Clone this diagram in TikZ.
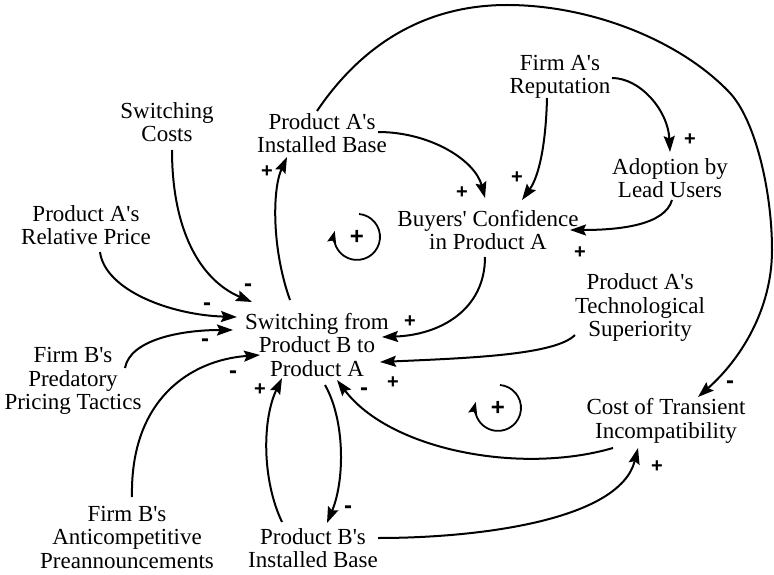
\documentclass[tikz,border=0pt]{standalone}
\usepackage{fontspec}
\setmainfont{Liberation Serif}
\newfontfamily\signfont{Liberation Sans}
\usetikzlibrary{arrows.meta,calc}
\newcommand{\ap}{\textquotesingle}
\begin{document}
\begin{tikzpicture}[x=1pt,y=-1pt,
  var/.style={inner sep=0pt, align=center, font=\fontsize{23}{23.5}\selectfont},
  plus/.style={inner sep=0pt, font=\signfont\bfseries\fontsize{20}{20}\selectfont},
  bigplus/.style={inner sep=0pt, font=\signfont\bfseries\fontsize{24}{24}\selectfont},
  minus/.style={inner sep=0pt, font=\signfont\bfseries\fontsize{24}{24}\selectfont},
  link/.style={line width=2pt, -{Stealth[length=16pt,width=11pt,inset=2.5pt]}},
  loopar/.style={line width=1.8pt, -{Stealth[length=12pt,width=9pt,inset=2pt]}}
]
\fill[white] (0,0) rectangle (774,575);
\useasboundingbox (0,0) rectangle (774,575);

% variables
\node[var] (sc)  at (167,122) {Switching\\Costs};
\node[var] (rp)  at (86,225)  {Product A\ap s\\Relative Price};
\node[var] (ia)  at (322,133) {Product A\ap s\\Installed Base};
\node[var] (rep) at (560,77)  {Firm A\ap s\\Reputation};
\node[var] (ad)  at (670,178) {Adoption by\\Lead Users};
\node[var] (bc)  at (488,230) {Buyers\ap{} Confidence\\in Product A};
\node[var] (ts)  at (640,308) {Product A\ap s\\Technological\\Superiority};
\node[var] (sw)  at (317,345) {Switching from\\Product B to\\Product A};
\node[var] (pp)  at (73,381)  {Firm B\ap s\\Predatory\\Pricing Tactics};
\node[var] (ac)  at (127,537) {Firm B\ap s\\Anticompetitive\\Preannouncements};
\node[var] (ib)  at (313,548) {Product B\ap s\\Installed Base};
\node[var] (ci)  at (666,421) {Cost of Transient\\Incompatibility};

% links
\draw[link] ($(sc)+(5,28)$) .. controls (172,230) and (200,280) .. ($(sw)+(-65,-43)$);
\draw[link] ($(rp)+(14,27)$) .. controls (105,290) and (170,315) .. ($(sw)+(-80,-28)$);
\draw[link] ($(pp)+(52,-13)$) .. controls (130,340) and (180,330) .. ($(sw)+(-84,-15)$);
\draw[link] ($(ac)+(5,-40)$) .. controls (130,400) and (190,360) .. ($(sw)+(-57,10)$);
\draw[link] ($(sw)+(-27,-45)$) .. controls (272,250) and (272,190) .. ($(ia)+(-35,24)$);
\draw[link] ($(ia)+(56,-1)$) .. controls (430,132) and (475,160) .. ($(bc)+(-3,-32)$);
\draw[link] ($(rep)+(-13,21)$) .. controls (546,140) and (540,175) .. ($(bc)+(34,-30)$);
\draw[link] ($(rep)+(52,1)$) .. controls (640,78) and (668,110) .. ($(ad)+(0,-26)$);
\draw[link] ($(ad)+(2,22)$) .. controls (665,225) and (620,230) .. ($(bc)+(82,0)$);
\draw[link] ($(bc)+(-3,27)$) .. controls (485,310) and (440,335) .. ($(sw)+(65,-8)$);
\draw[link] ($(ts)+(-65,27)$) .. controls (555,355) and (470,358) .. ($(sw)+(63,17)$);
\draw[link] ($(ci)+(-53,27)$) .. controls (520,475) and (390,450) .. ($(sw)+(20,35)$);
\draw[link] ($(ib)+(65,-10)$) .. controls (480,538) and (620,520) .. ($(ci)+(-28,27)$);
\draw[link] ($(sw)+(8,40)$) .. controls (345,420) and (345,480) .. ($(ib)+(14,-25)$);
\draw[link] ($(ib)+(-31,-26)$) .. controls (262,480) and (262,420) .. ($(sw)+(-35,33)$);
\draw[link] ($(ia)+(-5,-22)$) .. controls (365,40) and (430,5) .. (507,5)
   .. controls (590,5) and (680,40) .. (730,93)
   .. controls (755,120) and (772,190) .. (772,250)
   .. controls (772,310) and (740,360) .. ($(ci)+(32,-24)$);

% polarities
\node[minus] (s1)  at (248,288) {-};
\node[minus] (s2)  at (207,307) {-};
\node[minus] (s3)  at (205,343) {-};
\node[minus] (s4)  at (233,375) {-};
\node[plus]  (s5)  at (267,172) {+};
\node[plus]  (s6)  at (462,193) {+};
\node[plus]  (s7)  at (517,178) {+};
\node[plus]  (s8)  at (690,140) {+};
\node[plus]  (s9)  at (580,253) {+};
\node[plus]  (s10) at (410,322) {+};
\node[plus]  (s11) at (393,383) {+};
\node[minus] (s12) at (364,392) {-};
\node[plus]  (s13) at (657,467) {+};
\node[minus] (s14) at (348,510) {-};
\node[plus]  (s15) at (260,390) {+};
\node[minus] (s16) at (730,385) {-};

% loop markers
\node[bigplus] (l1) at (357,237) {+};
\node[bigplus] (l2) at (498,408) {+};
\draw[loopar] ($(l1)+(2,-23)$) arc[start angle=-85, end angle=195, radius=23];
\draw[loopar] ($(l2)+(2,-23)$) arc[start angle=-85, end angle=195, radius=23];
\end{tikzpicture}
\end{document}
